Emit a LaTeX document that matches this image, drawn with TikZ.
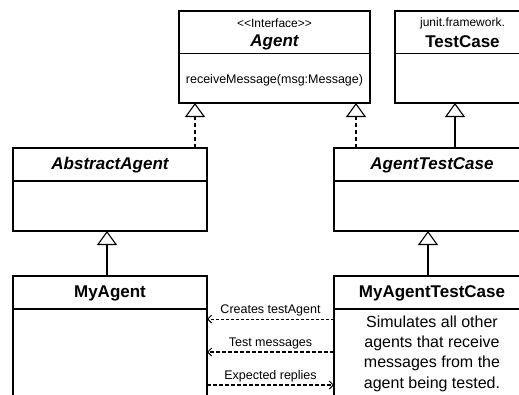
\documentclass[tikz,border=0pt]{standalone}
\usepackage{fontspec}
\setmainfont{Liberation Sans}
\usetikzlibrary{arrows.meta,calc}
\tikzset{
  classbox/.style={draw, line width=1.2pt, anchor=north west, inner sep=0pt, outer sep=0pt, fill=white},
  thinrule/.style={line width=1pt},
  boldrule/.style={line width=2pt},
  midrule/.style={line width=1.2pt},
  clsname/.style={font=\fontsize{17}{20}\selectfont\bfseries, inner sep=1pt},
  absname/.style={clsname, font=\fontsize{17}{20}\selectfont\bfseries\itshape},
  stereo/.style={font=\fontsize{12}{14}\selectfont, inner sep=1pt},
  opname/.style={font=\fontsize{12.5}{15}\selectfont, inner sep=1pt},
  note/.style={font=\fontsize{16}{20.3}\selectfont, align=center, inner sep=0pt},
  msglabel/.style={font=\fontsize{12.5}{14}\selectfont, inner sep=1pt},
  realize/.style={line width=2.2pt, dash pattern=on 4.5pt off 2.5pt,
    -{Triangle[open, length=14pt, width=20pt, line width=1.1pt]}},
  extend/.style={line width=1.2pt, -{Triangle[open, length=14pt, width=20pt, line width=1.1pt]}},
  msgthin/.style={line width=1pt, dash pattern=on 3pt off 2pt,
    -{Straight Barb[length=4pt, width=8pt, line width=1pt]}},
  msgthick/.style={line width=2pt, dash pattern=on 4pt off 2pt,
    -{Straight Barb[length=4pt, width=8pt, line width=1pt]}},
}
% horizontal rule across a class box, #3 pt below its top
\newcommand{\splitbox}[3][midrule]{%
  \draw[#1] ([yshift=-#3pt]#2.north west) -- ([yshift=-#3pt]#2.north east);}

\begin{document}
\begin{tikzpicture}[x=1pt, y=-1pt]
  \useasboundingbox (0,0) rectangle (519,394);
  \clip (0,0) rectangle (519,394);
  \fill[white] (0,0) rectangle (519,394);

  % class boxes
  \node[classbox, minimum width=191pt, minimum height=92pt] (agent) at (179,11) {};
  \node[classbox, minimum width=135pt, minimum height=92pt] (testcase) at (395,11) {};
  \node[classbox, minimum width=194pt, minimum height=83pt] (abstract) at (13,148) {};
  \node[classbox, minimum width=196pt, minimum height=83pt] (atc) at (334,148) {};
  \node[classbox, minimum width=194pt, minimum height=129pt] (myagent) at (13,276) {};
  \node[classbox, minimum width=196pt, minimum height=129pt] (myatc) at (334,276) {};
  \splitbox[thinrule]{agent}{42}
  \splitbox[thinrule]{testcase}{42}
  \splitbox[boldrule]{abstract}{33}
  \splitbox[boldrule]{atc}{33}
  \splitbox{myagent}{33}
  \splitbox{myatc}{33}

  % names and members
  \node[stereo] (agentstereo) at ([yshift=-12pt]agent.north) {<\kern0pt<Interface>\kern0pt>};
  \node[absname] (agentname) at ([yshift=-31pt]agent.north) {Agent};
  \node[opname] (agentop) at ([yshift=-69pt]agent.north) {receiveMessage(msg:Message)};
  \node[stereo] (tcpkg) at ([yshift=-12pt]testcase.north) {junit.framework.};
  \node[clsname] (tcname) at ([yshift=-31pt]testcase.north) {TestCase};
  \node[absname] (abstractname) at ([yshift=-17pt]abstract.north) {AbstractAgent};
  \node[absname] (atcname) at ([yshift=-17pt]atc.north) {AgentTestCase};
  \node[clsname] (myagentname) at ([yshift=-17pt]myagent.north) {MyAgent};
  \node[clsname] (myatcname) at ([yshift=-17pt]myatc.north) {MyAgentTestCase};
  \node[note] (myatcnote) at ([yshift=-77.5pt]myatc.north)
    {Simulates all other\\agents that receive\\messages from the\\agent being tested.};

  % realization and inheritance
  \draw[realize] ([xshift=-12pt]abstract.north east) -- ([xshift=16pt]agent.south west);
  \draw[realize] ([xshift=22pt]atc.north west) -- ([xshift=-14pt]agent.south east);
  \draw[extend] ([xshift=121pt]atc.north west) -- ([xshift=60pt]testcase.south west);
  \draw[extend] ([xshift=94pt]myagent.north west) -- ([xshift=94pt]abstract.south west);
  \draw[extend] ([xshift=94pt]myatc.north west) -- ([xshift=94pt]atc.south west);

  % messages between the two
  \draw[msgthin] ([yshift=-43pt]myatc.north west) -- node[msglabel, above=1pt] {Creates testAgent}
    ([yshift=-43pt]myagent.north east);
  \draw[msgthick] ([yshift=-76pt]myatc.north west) -- node[msglabel, above=1pt] {Test messages}
    ([yshift=-76pt]myagent.north east);
  \draw[msgthick] ([yshift=-109pt]myagent.north east) -- node[msglabel, above=1pt] {Expected replies}
    ([yshift=-109pt]myatc.north west);
\end{tikzpicture}
\end{document}
